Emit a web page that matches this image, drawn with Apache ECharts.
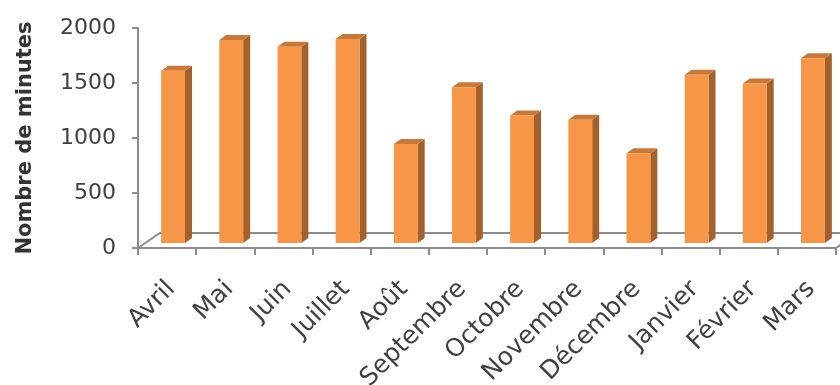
<!DOCTYPE html>
<html>
<head>
<meta charset="utf-8">
<script src="https://cdn.jsdelivr.net/npm/echarts@6/dist/echarts.min.js"></script>
<style>
  html, body { margin: 0; padding: 0; background: #ffffff; }
  #chart { width: 840px; height: 385px; }
</style>
</head>
<body>
<div id="chart"></div>
<script>
// Monthly totals, April to March
const months = ['Avril', 'Mai', 'Juin', 'Juillet', 'Août', 'Septembre', 'Octobre',
                'Novembre', 'Décembre', 'Janvier', 'Février', 'Mars'];
const minutes = [1565, 1845, 1785, 1855, 900, 1415, 1160, 1120, 815, 1530, 1450, 1680];
const yTicks = [0, 500, 1000, 1500, 2000];
const yTitle = 'Nombre de minutes';

// pseudo-3D depth of the floor and of the columns (pixels)
const FLOOR_DX = 22, FLOOR_DY = 15;
const FRONT_DX = 6, FRONT_DY = 5;
const BAR_DX = 7, BAR_DY = 5;

const AXIS_GREY = '#8c8c8c';
const FACE_FRONT = '#f79646';
const FACE_SIDE = '#a5612c';
const FACE_TOP = '#c97838';

const chart = echarts.init(document.getElementById('chart'), null, { renderer: 'canvas' });

function renderFloor(params, api) {
  const band = api.size([1, 0])[0];
  const first = api.coord([0, 0]);
  const last = api.coord([months.length - 1, 0]);
  const x0 = first[0] - band / 2, x1 = last[0] + band / 2, y = first[1];
  const style = { stroke: AXIS_GREY, lineWidth: 2, fill: null };
  return {
    type: 'group',
    children: [
      { type: 'polyline', shape: { points: [[x0, y], [x0 + FLOOR_DX, y - FLOOR_DY], [x1 + FLOOR_DX, y - FLOOR_DY]] }, style },
      { type: 'line', shape: { x1: x1, y1: y, x2: x1 + FLOOR_DX, y2: y - FLOOR_DY }, style }
    ]
  };
}

function renderColumn(params, api) {
  const idx = api.value(0);
  const base = api.coord([idx, 0]);
  const top = api.coord([idx, api.value(1)]);
  const band = api.size([1, 0])[0];
  const w = band * 0.41;
  const xl = base[0] + FRONT_DX - w / 2;
  const xr = xl + w;
  const yb = base[1] - FRONT_DY;
  const yt = top[1] - FRONT_DY;
  return {
    type: 'group',
    children: [
      { type: 'polygon', shape: { points: [[xr, yb], [xr + BAR_DX, yb - BAR_DY], [xr + BAR_DX, yt - BAR_DY], [xr, yt]] },
        style: { fill: FACE_SIDE } },
      { type: 'polygon', shape: { points: [[xl, yt], [xr, yt], [xr + BAR_DX, yt - BAR_DY], [xl + BAR_DX, yt - BAR_DY]] },
        style: { fill: FACE_TOP } },
      { type: 'rect', shape: { x: xl, y: yt, width: w, height: yb - yt },
        style: { fill: FACE_FRONT } }
    ]
  };
}

chart.setOption({
  animation: false,
  backgroundColor: '#ffffff',
  grid: { left: 138, right: 4, top: 28, bottom: 137, containLabel: false, outerBoundsMode: 'none' },
  xAxis: {
    type: 'category',
    data: months,
    boundaryGap: true,
    axisLine: { show: true, lineStyle: { color: AXIS_GREY, width: 2 } },
    axisTick: { show: true, length: 7, lineStyle: { color: AXIS_GREY, width: 2 } },
    axisLabel: {
      interval: 0,
      rotate: 45,
      margin: 33,
      verticalAlign: 'top',
      lineHeight: 12,
      fontFamily: 'DejaVu Sans',
      fontSize: 25,
      color: '#404040'
    },
    splitLine: { show: false }
  },
  yAxis: {
    type: 'value',
    min: yTicks[0],
    max: yTicks[yTicks.length - 1],
    interval: yTicks[1] - yTicks[0],
    name: yTitle,
    nameLocation: 'middle',
    nameRotate: 90,
    nameGap: 102,
    nameTextStyle: { fontFamily: 'DejaVu Sans', fontWeight: 'bold', fontSize: 21, color: '#333333' },
    axisLine: { show: true, lineStyle: { color: AXIS_GREY, width: 2 } },
    axisTick: { show: true, length: 6, lineStyle: { color: AXIS_GREY, width: 2 } },
    axisLabel: {
      margin: 22,
      fontFamily: 'DejaVu Sans',
      fontSize: 22,
      color: '#404040',
      formatter: (v) => String(v)
    },
    splitLine: { show: false }
  },
  series: [
    {
      type: 'custom',
      name: 'sol',
      renderItem: renderFloor,
      data: [[0, 0]],
      encode: { x: 0, y: 1 },
      silent: true,
      z: 1
    },
    {
      type: 'custom',
      name: yTitle,
      renderItem: renderColumn,
      data: months.map((m, i) => [i, minutes[i]]),
      encode: { x: 0, y: 1 },
      z: 2
    }
  ]
});
</script>
</body>
</html>
